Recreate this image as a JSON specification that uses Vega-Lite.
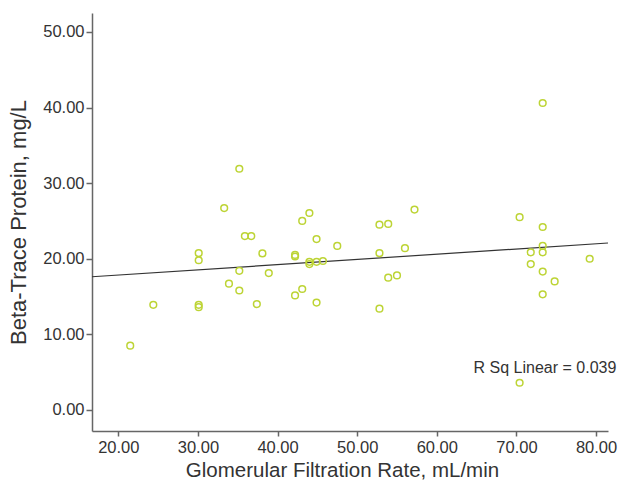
{
  "$schema": "https://vega.github.io/schema/vega-lite/v6.json",
  "width": 516,
  "height": 418,
  "autosize": {"type": "none"},
  "padding": {"left": 92, "top": 13, "right": 13, "bottom": 50},
  "background": "white",
  "config": {"view": {"stroke": null}, "font": "Liberation Sans"},
  "datasets": {
    "pts": [
      {"gfr": 21.5, "btp": 8.5}, {"gfr": 24.4, "btp": 13.9}, {"gfr": 30.1, "btp": 20.75}, {"gfr": 30.1, "btp": 19.8},
      {"gfr": 30.1, "btp": 13.9}, {"gfr": 30.1, "btp": 13.6}, {"gfr": 33.3, "btp": 26.7}, {"gfr": 33.9, "btp": 16.7},
      {"gfr": 35.2, "btp": 31.9}, {"gfr": 35.2, "btp": 18.4}, {"gfr": 35.2, "btp": 15.8}, {"gfr": 35.9, "btp": 23.0},
      {"gfr": 36.7, "btp": 23.0}, {"gfr": 37.4, "btp": 14.0}, {"gfr": 38.1, "btp": 20.7}, {"gfr": 38.9, "btp": 18.1},
      {"gfr": 42.2, "btp": 20.5}, {"gfr": 42.2, "btp": 20.3}, {"gfr": 42.2, "btp": 15.15}, {"gfr": 43.1, "btp": 25.0},
      {"gfr": 43.1, "btp": 16.0}, {"gfr": 44.0, "btp": 26.05}, {"gfr": 44.0, "btp": 19.6}, {"gfr": 44.0, "btp": 19.3},
      {"gfr": 44.9, "btp": 22.6}, {"gfr": 44.9, "btp": 19.6}, {"gfr": 44.9, "btp": 14.2}, {"gfr": 45.7, "btp": 19.7},
      {"gfr": 47.5, "btp": 21.7}, {"gfr": 52.8, "btp": 24.5}, {"gfr": 52.8, "btp": 20.75}, {"gfr": 52.8, "btp": 13.4},
      {"gfr": 53.9, "btp": 24.6}, {"gfr": 53.9, "btp": 17.5}, {"gfr": 55.0, "btp": 17.8}, {"gfr": 56.0, "btp": 21.4},
      {"gfr": 57.2, "btp": 26.5}, {"gfr": 70.4, "btp": 25.5}, {"gfr": 70.4, "btp": 3.6}, {"gfr": 71.8, "btp": 20.85},
      {"gfr": 71.8, "btp": 19.3}, {"gfr": 73.3, "btp": 40.6}, {"gfr": 73.3, "btp": 24.2}, {"gfr": 73.3, "btp": 21.7},
      {"gfr": 73.3, "btp": 20.85}, {"gfr": 73.3, "btp": 18.3}, {"gfr": 73.3, "btp": 15.3}, {"gfr": 74.8, "btp": 17.0},
      {"gfr": 79.2, "btp": 20.0}
    ],
    "fit": [{"gfr": 16.7, "btp": 17.62}, {"gfr": 81.5, "btp": 22.08}],
    "label": [{"gfr": 82.55, "btp": 5.56, "txt": "R Sq Linear = 0.039"}]
  },
  "layer": [
    {
      "data": {"name": "fit"},
      "mark": {"type": "line", "color": "#333333", "strokeWidth": 1.2},
      "encoding": {
        "x": {"field": "gfr", "type": "quantitative", "scale": {"domain": [16.7, 81.5], "nice": false, "zero": false},
          "axis": {"values": [20, 30, 40, 50, 60, 70, 80], "format": ".2f", "grid": false, "title": "Glomerular Filtration Rate, mL/min",
            "domainColor": "#666666", "domainWidth": 1.5, "tickColor": "#666666", "tickWidth": 1.5, "tickSize": 5,
            "labelFontSize": 16.5, "labelColor": "#333333", "labelPadding": 3, "titleFontSize": 20.5, "titleFontWeight": "normal",
            "titleColor": "#333333", "titlePadding": 5, "titleX": 250}},
        "y": {"field": "btp", "type": "quantitative", "scale": {"domain": [-2.78, 52.5], "nice": false, "zero": false},
          "axis": {"values": [0, 10, 20, 30, 40, 50], "format": ".2f", "grid": false, "title": "Beta-Trace Protein, mg/L",
            "domainColor": "#666666", "domainWidth": 1.5, "tickColor": "#666666", "tickWidth": 1.5, "tickSize": 6,
            "labelFontSize": 16.5, "labelColor": "#333333", "labelPadding": 2, "titleFontSize": 22, "titleFontWeight": "normal",
            "titleColor": "#333333", "titlePadding": 12}}
      }
    },
    {
      "data": {"name": "pts"},
      "mark": {"type": "point", "shape": "circle", "filled": false, "color": "#bdd435", "strokeWidth": 1.5, "size": 45, "opacity": 1},
      "encoding": {
        "x": {"field": "gfr", "type": "quantitative"},
        "y": {"field": "btp", "type": "quantitative"}
      }
    },
    {
      "data": {"name": "label"},
      "mark": {"type": "text", "align": "right", "baseline": "middle", "fontSize": 16, "color": "#333333", "clip": false},
      "encoding": {
        "x": {"field": "gfr", "type": "quantitative"},
        "y": {"field": "btp", "type": "quantitative"},
        "text": {"field": "txt"}
      }
    }
  ]
}
